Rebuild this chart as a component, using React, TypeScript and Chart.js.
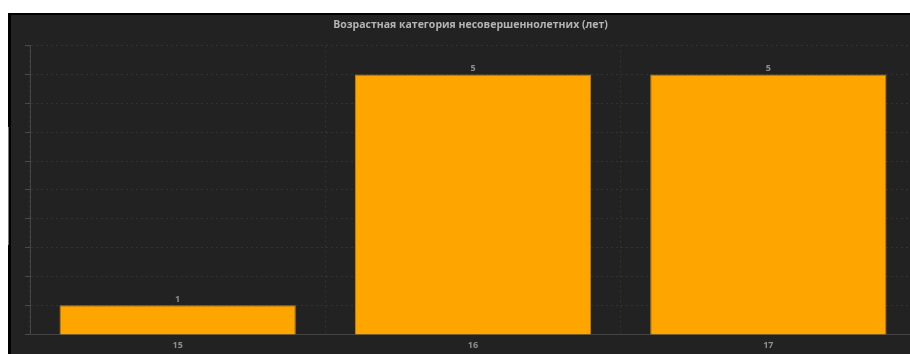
import React, { useEffect, useRef } from "react";
import { Chart, registerables } from "chart.js";

Chart.register(...registerables);

const titleText = "Возрастная категория несовершеннолетних (лет)";
const categories = ["15", "16", "17"];
const counts = [1, 5, 5];
const yMin = 0.5;
const yMax = 5.5;
const yStep = 0.5;

const barLabelPlugin = {
  id: "barLabels",
  afterDatasetsDraw(chart: any) {
    const ctx = chart.ctx;
    ctx.save();
    ctx.font = "bold 9px 'Open Sans'";
    ctx.fillStyle = "#8e8e8e";
    ctx.textAlign = "center";
    ctx.textBaseline = "middle";
    chart.data.datasets.forEach((ds: any, di: number) => {
      const meta = chart.getDatasetMeta(di);
      meta.data.forEach((bar: any, i: number) => {
        ctx.fillText(String(ds.data[i]), bar.x, bar.y - 6);
      });
    });
    ctx.restore();
  },
};

export default function App() {
  const ref = useRef<HTMLCanvasElement>(null);
  useEffect(() => {
    if (!ref.current) return;
    const chart = new Chart(ref.current, {
      type: "bar",
      data: {
        labels: categories,
        datasets: [
          {
            data: counts,
            backgroundColor: "#FFA500",
            borderColor: "#c08412",
            borderWidth: 1,
            barPercentage: 0.8,
            categoryPercentage: 1,
          },
        ],
      },
      options: {
        animation: false,
        responsive: false,
        devicePixelRatio: 1,
        layout: { padding: { left: 14, right: 0, top: 0, bottom: 3 } },
        plugins: {
          legend: { display: false },
          tooltip: { enabled: false },
          title: {
            display: true,
            text: titleText,
            color: "#b4b4b4",
            font: { family: "'Open Sans'", size: 10.5, weight: "bold" as any, lineHeight: 1.2 },
            padding: { top: 4, bottom: 14 },
          },
        },
        scales: {
          x: {
            offset: true,
            grid: {
              display: true,
              offset: true,
              color: "rgba(255,255,255,0.07)",
              drawTicks: false,
            },
            border: { display: true, color: "#444444", dash: [2, 3] },
            ticks: {
              color: "#8e8e8e",
              font: { family: "'Open Sans'", size: 9, weight: "bold" as any, lineHeight: 1.2 },
              padding: 6,
            },
          },
          y: {
            min: yMin,
            max: yMax,
            grid: {
              display: true,
              color: "rgba(255,255,255,0.08)",
              drawTicks: true,
              tickLength: 5,
              tickColor: "#4a4a4a",
            },
            border: { display: true, color: "#444444", dash: [2, 3] },
            ticks: { display: false, stepSize: yStep },
          },
        },
      },
      plugins: [barLabelPlugin],
    });
    return () => chart.destroy();
  }, []);

  return (
    <>
      <div
        style={{
          position: "fixed",
          left: 8,
          top: 13,
          right: 0,
          bottom: 0,
          background: "#222222",
          borderTop: "2px solid #000",
          borderLeft: "3px solid #000",
          overflow: "hidden",
        }}
      >
        <canvas
          ref={ref}
          width={905}
          height={345}
          style={{ position: "absolute", left: 0, top: 0, width: 905, height: 345 }}
        />
      </div>
      <div
        style={{
          position: "fixed",
          left: 8,
          top: 127,
          width: 1,
          height: 118,
          background: "#777",
        }}
      />
    </>
  );
}
